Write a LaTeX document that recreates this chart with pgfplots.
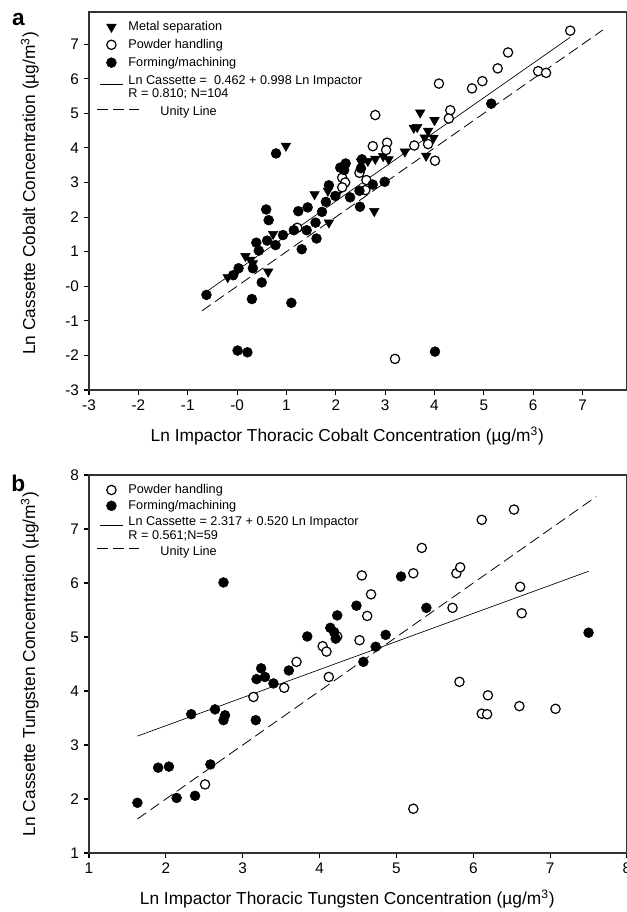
\documentclass[border=0pt]{standalone}
\usepackage{fontspec}
\setmainfont{Liberation Sans}
\usepackage{pgfplots}
\pgfplotsset{compat=1.18}

\pgfplotsset{
  panel/.style={
    scale only axis, width=403.5pt, height=283.5pt,
    axis line style={black!80, line width=0.8pt},
    tick align=outside, xtick pos=bottom, ytick pos=left,
    major tick length=4pt,
    tick style={black, line width=0.8pt},
    tick label style={font=\fontsize{11.5}{13}\selectfont},
    label style={font=\fontsize{13}{15}\selectfont},
    xlabel style={at={(axis description cs:0.48,-0.122)}, anchor=center},
    legend style={draw=none, fill=none, at={(0.012,0.99)}, anchor=north west,
      font=\fontsize{9.5}{10.5}\selectfont, row sep=1pt, column sep=2pt},
    legend cell align=left,
  },
  msep/.style={only marks, mark=triangle*, mark size=4.1pt,
    mark options={rotate=180, fill=black, draw=black}},
  powd/.style={only marks, mark=*, mark size=3.5pt,
    mark options={draw=black, fill=white, line width=0.9pt}},
  form/.style={only marks, mark=*, mark size=3.7pt,
    mark options={draw=black, fill=black}},
  regline/.style={black, line width=0.5pt},
  unity/.style={black, line width=0.6pt, dash pattern=on 8pt off 4pt},
  unityleg/.style={legend image code/.code={
    \draw[black, line width=0.6pt, dash pattern=on 8pt off 4pt, overlay] (-0.08cm,0cm) -- (1.02cm,0cm);}},
}

\begin{document}
\begin{tikzpicture}
\begin{axis}[panel, name=A, at={(0,0)}, anchor=south west,
    xmin=-3, xmax=7.9, ymin=-3, ymax=7.93,
    xtick={-3,-2,-1,0,1,2,3,4,5,6,7},
    xticklabels={-3,-2,-1,-0,1,2,3,4,5,6,7},
    ytick={-3,-2,-1,0,1,2,3,4,5,6,7},
    yticklabels={-3,-2,-1,-0,1,2,3,4,5,6,7},
    xlabel={Ln Impactor Thoracic Cobalt Concentration (µg/m\textsuperscript{3})},
    ylabel={Ln Cassette Cobalt Concentration (µg/m\textsuperscript{3})},
    ylabel style={at={(axis description cs:-0.11,0.52)}, anchor=center},
]
% fitted line and unity line (behind the points)
\addplot[regline, forget plot] coordinates {(-0.62,-0.157) (6.75,7.199)};
\addplot[unity, forget plot] coordinates {(-0.71,-0.71) (7.41,7.41)};

\addplot[msep] coordinates {
(0.99,4.06) (3.71,5.02) (4.00,4.80) (3.58,4.58) (3.65,4.60) (3.87,4.49)
(3.80,4.30) (3.98,4.29) (3.83,3.77) (3.40,3.89) (3.07,3.67) (2.96,3.76)
(2.80,3.68) (2.65,3.62) (2.51,3.60) (2.78,2.17) (1.57,2.66) (1.86,1.84)
(1.84,2.76) (2.02,2.64) (0.73,1.51) (0.63,0.42) (0.17,0.87) (0.27,0.76)
(0.32,0.66) (-0.19,0.26) (-0.04,0.35)
};
\addlegendentry{Metal separation}
\addplot[powd] coordinates {
(6.75,7.39) (5.49,6.76) (5.28,6.30) (4.97,5.93) (4.76,5.72) (4.09,5.86)
(6.10,6.22) (6.26,6.17) (4.32,5.09) (4.29,4.85) (2.80,4.95) (2.75,4.05)
(3.04,4.15) (3.02,3.94) (3.59,4.07) (3.87,4.11) (4.01,3.63) (2.13,3.14)
(2.19,3.00) (2.13,2.86) (2.48,3.28) (2.62,3.07) (2.60,2.78) (1.22,1.69)
(3.20,-2.10)
};
\addlegendentry{Powder handling}
\addplot[form] coordinates {
(0.79,3.84) (5.15,5.28) (4.01,-1.89) (0.01,-1.86) (0.21,-1.91) (1.10,-0.48)
(0.30,-0.37) (-0.62,-0.25) (0.50,0.11) (0.32,0.52) (0.03,0.52) (-0.08,0.32)
(0.44,1.03) (0.39,1.26) (0.61,1.32) (0.78,1.19) (0.93,1.48) (0.59,2.22)
(0.64,1.91) (1.15,1.62) (1.31,1.07) (1.41,1.62) (1.24,2.17) (1.43,2.28)
(1.59,1.84) (1.61,1.38) (1.72,2.15) (1.80,2.44) (1.86,2.92) (1.99,2.61)
(2.09,3.43) (2.20,3.55) (2.17,3.36) (2.29,2.57) (2.49,2.30) (2.48,2.76)
(2.53,3.67) (2.51,3.41) (2.75,2.94) (2.99,3.02)
};
\addlegendentry{Forming/machining}
\addlegendimage{regline}
\addlegendentry{\begin{tabular}{@{}l@{}}Ln Cassette =\ \ 0.462 + 0.998 Ln Impactor\\[-1pt] R = 0.810; N=104\end{tabular}}
\addlegendimage{unityleg}
\addlegendentry{\rule{0pt}{12pt}\hspace*{24pt}Unity Line}
\end{axis}

\begin{axis}[panel, name=B, at={(0,-347.25pt)}, anchor=south west,
    xmin=1, xmax=8, ymin=1, ymax=8,
    xtick={1,...,8}, xticklabels={1,2,3,4,5,6,7,8},
    ytick={1,...,8}, yticklabels={1,2,3,4,5,6,7,8},
    xlabel={Ln Impactor Thoracic Tungsten Concentration (µg/m\textsuperscript{3})},
    ylabel={Ln Cassette Tungsten Concentration (µg/m\textsuperscript{3})},
    ylabel style={at={(axis description cs:-0.11,0.5)}, anchor=center},
    legend style={row sep=-0.5pt},
]
\addplot[regline, forget plot] coordinates {(1.63,3.165) (7.50,6.217)};
\addplot[unity, forget plot] coordinates {(1.63,1.63) (7.60,7.60)};

\addplot[powd] coordinates {
(6.53,7.36) (6.11,7.17) (5.33,6.65) (5.22,6.18) (4.55,6.14) (5.78,6.18)
(5.83,6.29) (6.61,5.93) (4.67,5.79) (4.62,5.39) (5.73,5.54) (6.63,5.44)
(4.52,4.94) (4.04,4.83) (4.09,4.73) (4.23,5.01) (3.70,4.54) (4.12,4.26)
(3.54,4.06) (3.14,3.89) (5.82,4.17) (6.19,3.92) (6.11,3.58) (6.18,3.57)
(6.60,3.72) (7.07,3.67) (2.51,2.27) (5.22,1.82)
};
\addlegendentry{Powder handling}
\addplot[form] coordinates {
(2.75,6.01) (5.06,6.12) (5.39,5.54) (4.48,5.58) (4.23,5.40) (4.14,5.17)
(4.19,5.09) (4.21,4.97) (3.84,5.01) (4.86,5.04) (4.73,4.82) (4.57,4.54)
(3.60,4.38) (3.24,4.42) (3.29,4.26) (3.18,4.22) (3.40,4.14) (2.64,3.66)
(2.33,3.57) (2.77,3.55) (2.75,3.46) (3.17,3.46) (2.58,2.64) (1.90,2.58)
(2.04,2.60) (2.14,2.02) (2.38,2.06) (1.63,1.93) (7.50,5.08)
};
\addlegendentry{Forming/machining}
\addlegendimage{regline}
\addlegendentry{\begin{tabular}{@{}l@{}}Ln Cassette = 2.317 + 0.520 Ln Impactor\\[-0.5pt] R = 0.561;N=59\end{tabular}}
\addlegendimage{unityleg}
\addlegendentry{\rule{0pt}{12pt}\hspace*{24pt}Unity Line}
\end{axis}

\node[font=\bfseries\fontsize{17}{17}\selectfont] at ([xshift=-53pt,yshift=-6pt]A.north west) {a};
\node[font=\bfseries\fontsize{17}{17}\selectfont] at ([xshift=-53pt,yshift=-6pt]B.north west) {b};

\pgfresetboundingbox
\path ([xshift=-66.75pt,yshift=9pt]A.north west) rectangle ([yshift=-44.25pt]B.south east);
\end{tikzpicture}
\end{document}
